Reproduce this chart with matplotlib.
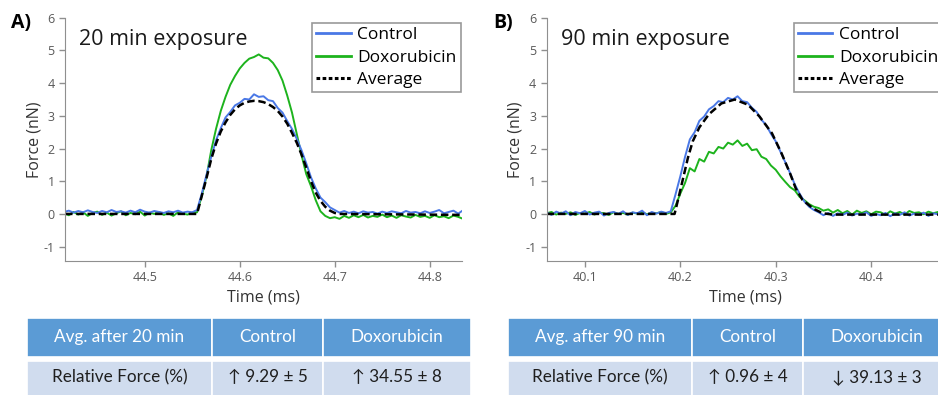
import matplotlib.pyplot as plt
import numpy as np
from matplotlib.patches import Rectangle
from matplotlib.lines import Line2D

plt.rcParams['font.family'] = ['Open Sans', 'DejaVu Sans']
plt.rcParams['axes.unicode_minus'] = False

W, H = 938, 395

# ---- panel A: 20 min exposure (samples every 0.005 ms from 44.415) ----
t_a = np.round(44.415 + 0.005 * np.arange(85), 3)
ctrl_a = [0.06, 0.10, 0.04, 0.09, 0.05, 0.11, 0.06, 0.03, 0.09, 0.05, 0.12, 0.06, 0.08, 0.04,
          0.10, 0.05, 0.13, 0.07, 0.04, 0.09, 0.06, 0.03, 0.08, 0.05, 0.10, 0.04, 0.07, 0.05,
          0.12, 0.62, 1.20, 1.75, 2.25, 2.62, 2.95, 3.12, 3.32, 3.40, 3.52, 3.50, 3.66, 3.58,
          3.60, 3.48, 3.45, 3.24, 3.10, 2.84, 2.60, 2.30, 1.95, 1.55, 1.12, 0.78, 0.50, 0.36,
          0.20, 0.12,
          0.04, 0.09, 0.03, 0.07, 0.02, 0.08, 0.04, 0.06, 0.01, 0.07, 0.03, 0.08, 0.05, 0.02,
          0.09, 0.04, 0.06, 0.02, 0.08, 0.03, 0.07, 0.12, 0.02, 0.06, 0.10, 0.01, 0.11]
dox_a = [0.02, -0.04, 0.06, -0.02, 0.05, -0.06, 0.03, 0.07, -0.03, 0.04, -0.05, 0.02, 0.08, -0.04,
         0.03, -0.01, 0.07, -0.05, 0.04, 0.00, 0.06, -0.03, 0.02, -0.06, 0.05, 0.01, -0.02, 0.04,
         0.05, 0.55, 1.15, 1.95, 2.60, 3.15, 3.58, 3.95, 4.22, 4.45, 4.62, 4.75, 4.80, 4.88,
         4.78, 4.76, 4.62, 4.40, 4.08, 3.62, 3.10, 2.45, 1.80, 1.22, 0.85, 0.42, 0.08, -0.06,
         -0.13, -0.10,
         -0.15, -0.06, -0.12, -0.04, -0.10, -0.03, -0.11, -0.06, -0.09, -0.02, -0.10, -0.05, -0.12, -0.04,
         -0.08, -0.11, -0.03, -0.09, -0.06, -0.12, -0.04, -0.10, -0.07, -0.13, -0.05, -0.09, -0.15]
t_avg_a = [44.416, 44.555, 44.560, 44.565, 44.570, 44.575, 44.580, 44.585, 44.590, 44.595, 44.600,
           44.605, 44.610, 44.615, 44.620, 44.625, 44.630, 44.635, 44.640, 44.645, 44.650, 44.655,
           44.660, 44.665, 44.670, 44.675, 44.680, 44.685, 44.690, 44.695, 44.700, 44.705, 44.834]
avg_a = [0.0, 0.0, 0.55, 1.10, 1.68, 2.15, 2.52, 2.80, 3.03, 3.20, 3.32,
         3.40, 3.44, 3.46, 3.45, 3.42, 3.36, 3.27, 3.15, 2.98, 2.76, 2.48,
         2.18, 1.82, 1.42, 1.00, 0.65, 0.40, 0.22, 0.10, 0.03, 0.0, -0.03]

# ---- panel B: 90 min exposure (samples every 0.005 ms from 40.060) ----
t_b = np.round(40.060 + 0.005 * np.arange(84), 3)
ctrl_b = [0.05, -0.03, 0.07, 0.01, 0.08, -0.04, 0.06, 0.02, 0.09, -0.02, 0.04, 0.07, -0.05, 0.03,
          0.06, 0.00, 0.08, -0.03, 0.05, 0.02, 0.10, -0.04, 0.06, 0.01, 0.07, 0.03, 0.08,
          0.60, 1.15, 1.75, 2.28, 2.50, 2.85, 2.98, 3.20, 3.30, 3.45, 3.42, 3.55, 3.50, 3.60,
          3.45, 3.42, 3.25, 3.12, 2.88, 2.72, 2.45, 2.22, 1.90, 1.58, 1.25, 0.90, 0.62, 0.38,
          0.22, 0.12, 0.05,
          -0.04, 0.03, -0.06, 0.02, -0.03, 0.04, -0.05, 0.01, -0.02, 0.05, -0.06, 0.00, -0.04,
          0.03, -0.07, 0.02, -0.03, 0.05, -0.05, 0.01, -0.02, 0.04, -0.06, 0.02, -0.01, 0.03]
dox_b = [0.02, 0.06, -0.02, 0.04, 0.00, 0.05, -0.03, 0.03, 0.01, 0.06, -0.02, 0.04, 0.02, -0.03,
         0.05, 0.00, 0.03, -0.02, 0.04, 0.01, 0.05, -0.01, 0.03, 0.02, 0.06, 0.00, 0.05,
         0.25, 0.62, 0.95, 1.40, 1.30, 1.68, 1.60, 1.90, 1.85, 2.05, 2.00, 2.18, 2.12, 2.25,
         2.08, 2.15, 1.95, 1.98, 1.75, 1.68, 1.48, 1.35, 1.15, 0.98, 0.82, 0.72, 0.52, 0.42,
         0.30, 0.22, 0.18, 0.10,
         0.14, 0.04, 0.12, 0.02, 0.09, -0.02, 0.10, 0.03, 0.08, -0.01, 0.07, 0.05, -0.03,
         0.08, 0.01, 0.06, -0.02, 0.09, 0.03, 0.05, -0.01, 0.07, 0.02, 0.06, 0.04]
t_avg_b = [40.060, 40.194, 40.199, 40.203, 40.208, 40.213, 40.220, 40.230, 40.243, 40.257, 40.271,
           40.283, 40.296, 40.306, 40.315, 40.321, 40.328, 40.339, 40.349, 40.360, 40.476]
avg_b = [0.0, 0.0, 0.60, 1.10, 1.72, 2.22, 2.65, 3.05, 3.38, 3.50, 3.34,
         2.98, 2.47, 1.86, 1.24, 0.78, 0.43, 0.17, 0.02, -0.02, -0.02]

# ---- tables ----
head_a = ['Avg. after 20 min', 'Control', 'Doxorubicin']
row_a = ['Relative Force (%)', '↑ 9.29 ± 5', '↑ 34.55 ± 8']
head_b = ['Avg. after 90 min', 'Control', 'Doxorubicin']
row_b = ['Relative Force (%)', '↑ 0.96 ± 4', '↓ 39.13 ± 3']

azul = '#4A78E6'
verde = '#1DB31D'
cinza = '#8f8f8f'

fig = plt.figure(figsize=(W / 100, H / 100), dpi=100)


def caixa(x0, y0, x1, y1):
    # pixel box (top-left origin) -> figure fraction
    return [x0 / W, 1 - y1 / H, (x1 - x0) / W, (y1 - y0) / H]


def plotar(left, t, ctrl, dox, t_avg, avg, xlim, xticks, letra, titulo):
    ax = fig.add_axes(caixa(left, 17.8, left + 397, 261))
    ax.plot(t, dox, color=verde, lw=1.4)
    ax.plot(t, ctrl, color=azul, lw=1.4)
    ax.plot(t_avg, avg, color='black', lw=1.8, linestyle=(0, (3, 1.5)))
    ax.set_xlim(*xlim)
    ax.set_ylim(-1.44, 6.0)
    ax.set_xticks(xticks)
    ax.set_yticks(range(-1, 7))
    for s in ['top', 'right']:
        ax.spines[s].set_visible(False)
    for s in ['left', 'bottom']:
        ax.spines[s].set_color(cinza)
    ax.tick_params(colors=cinza, labelcolor='#595959', labelsize=9, length=4, width=1)
    ax.set_xlabel('Time (ms)', fontsize=11.5, color='#333333', labelpad=4)
    ax.set_ylabel('Force (nN)', fontsize=11.5, color='#333333', labelpad=1)

    ax.text(0.035, 0.91, titulo, transform=ax.transAxes, fontsize=15.5, color='#1a1a1a',
            va='center', ha='left')
    fig.text((left - 44) / W, 1 - 23 / H, letra, fontsize=14, fontweight='bold',
             ha='center', va='center')

    handles = [Line2D([], [], color=azul, lw=2),
               Line2D([], [], color=verde, lw=2),
               Line2D([], [], color='black', lw=2.2, linestyle=(0, (1.2, 0.8)))]
    leg = ax.legend(handles, ['Control', 'Doxorubicin', 'Average'], loc='upper left',
                    bbox_to_anchor=((left + 247) / W, 1 - 23 / H), bbox_transform=fig.transFigure,
                    fontsize=12.5, frameon=True, fancybox=False, framealpha=1, edgecolor='#999999',
                    borderpad=0.22, labelspacing=0.38, handlelength=2.0, handletextpad=0.4,
                    borderaxespad=0)
    leg.get_frame().set_linewidth(1.2)
    return ax


def tabela(bordas, cab, linha):
    for j in range(3):
        x0, x1 = bordas[j], bordas[j + 1]
        fig.add_artist(Rectangle((x0 / W, 1 - 357 / H), (x1 - x0) / W, 39 / H,
                                 transform=fig.transFigure, facecolor='#5B9BD5',
                                 edgecolor='white', lw=1.2))
        fig.add_artist(Rectangle((x0 / W, 1 - 400 / H), (x1 - x0) / W, 39 / H,
                                 transform=fig.transFigure, facecolor='#D0DCEE',
                                 edgecolor='white', lw=1.2))
        xc = (x0 + x1) / 2 / W
        fig.text(xc, 1 - 337 / H, cab[j], color='white', fontsize=12.3, ha='center', va='center',
                 family=['Lato', 'DejaVu Sans'])
        fig.text(xc, 1 - 377 / H, linha[j], color='#1f1f1f', fontsize=12.3, ha='center', va='center',
                 family=['Lato', 'DejaVu Sans'])


plotar(65, t_a, ctrl_a, dox_a, t_avg_a, avg_a, (44.416, 44.834),
       [44.5, 44.6, 44.7, 44.8], 'A)', '20 min exposure')
plotar(546.7, t_b, ctrl_b, dox_b, t_avg_b, avg_b, (40.06, 40.476),
       [40.1, 40.2, 40.3, 40.4], 'B)', '90 min exposure')

tabela([27, 212, 323, 471], head_a, row_a)
tabela([508, 692, 803, 951], head_b, row_b)

fig.savefig('out.png', dpi=100)
